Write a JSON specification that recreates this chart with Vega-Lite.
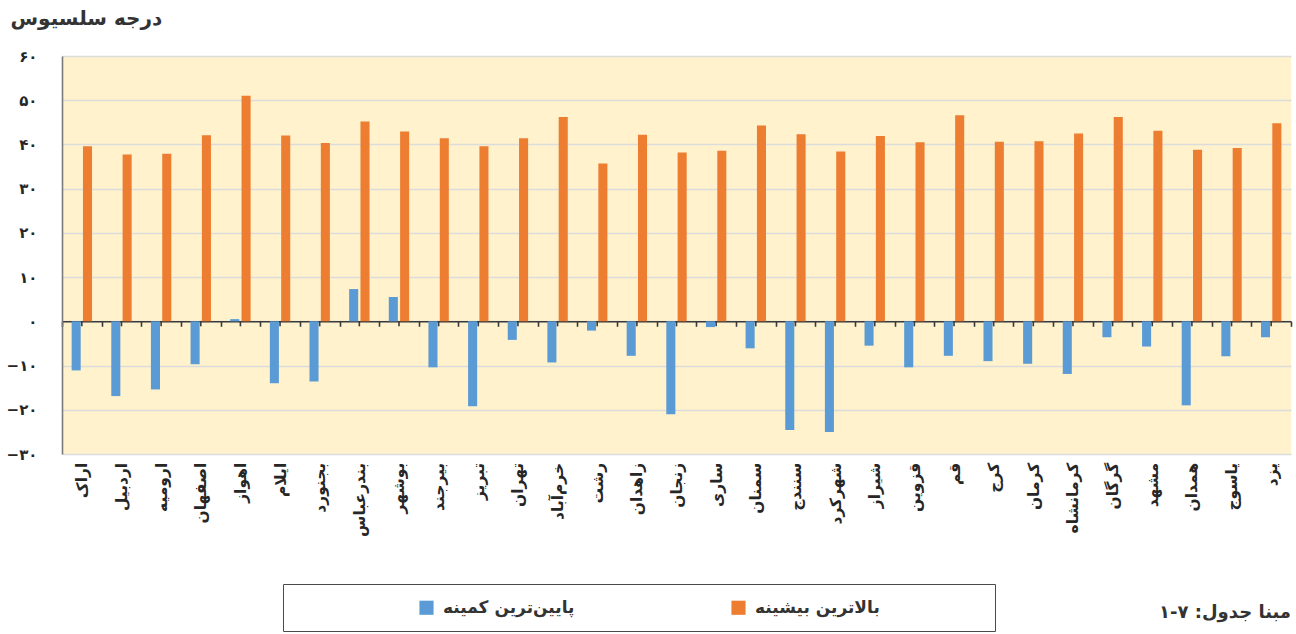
{
  "$schema": "https://vega.github.io/schema/vega-lite/v6.json",
  "width": 1229,
  "height": 398,
  "autosize": {"type": "none"},
  "padding": {"left": 62, "top": 56, "right": 5, "bottom": 180},
  "background": "white",
  "config": {
    "view": {"fill": "#fff2cc", "stroke": null},
    "font": "DejaVu Sans"
  },
  "title": {
    "text": "مبنا جدول: ۷-۱",
    "orient": "bottom",
    "anchor": "end",
    "frame": "group",
    "offset": -28,
    "fontSize": 18,
    "fontWeight": "bold",
    "color": "#333333"
  },
  "datasets": {
    "temps": [
      {"city": "اراک", "series": "پایین‌ترین کمینه", "value": -11.1},
      {"city": "اراک", "series": "بالاترین بیشینه", "value": 39.6},
      {"city": "اردبیل", "series": "پایین‌ترین کمینه", "value": -16.9},
      {"city": "اردبیل", "series": "بالاترین بیشینه", "value": 37.7},
      {"city": "ارومیه", "series": "پایین‌ترین کمینه", "value": -15.4},
      {"city": "ارومیه", "series": "بالاترین بیشینه", "value": 37.9},
      {"city": "اصفهان", "series": "پایین‌ترین کمینه", "value": -9.7},
      {"city": "اصفهان", "series": "بالاترین بیشینه", "value": 42.1},
      {"city": "اهواز", "series": "پایین‌ترین کمینه", "value": 0.5},
      {"city": "اهواز", "series": "بالاترین بیشینه", "value": 51.0},
      {"city": "ایلام", "series": "پایین‌ترین کمینه", "value": -14.0},
      {"city": "ایلام", "series": "بالاترین بیشینه", "value": 42.0},
      {"city": "بجنورد", "series": "پایین‌ترین کمینه", "value": -13.6},
      {"city": "بجنورد", "series": "بالاترین بیشینه", "value": 40.3},
      {"city": "بندرعباس", "series": "پایین‌ترین کمینه", "value": 7.3},
      {"city": "بندرعباس", "series": "بالاترین بیشینه", "value": 45.2},
      {"city": "بوشهر", "series": "پایین‌ترین کمینه", "value": 5.5},
      {"city": "بوشهر", "series": "بالاترین بیشینه", "value": 42.9},
      {"city": "بیرجند", "series": "پایین‌ترین کمینه", "value": -10.4},
      {"city": "بیرجند", "series": "بالاترین بیشینه", "value": 41.4},
      {"city": "تبریز", "series": "پایین‌ترین کمینه", "value": -19.2},
      {"city": "تبریز", "series": "بالاترین بیشینه", "value": 39.6},
      {"city": "تهران", "series": "پایین‌ترین کمینه", "value": -4.2},
      {"city": "تهران", "series": "بالاترین بیشینه", "value": 41.4},
      {"city": "خرم‌آباد", "series": "پایین‌ترین کمینه", "value": -9.3},
      {"city": "خرم‌آباد", "series": "بالاترین بیشینه", "value": 46.2},
      {"city": "رشت", "series": "پایین‌ترین کمینه", "value": -2.1},
      {"city": "رشت", "series": "بالاترین بیشینه", "value": 35.7},
      {"city": "زاهدان", "series": "پایین‌ترین کمینه", "value": -7.8},
      {"city": "زاهدان", "series": "بالاترین بیشینه", "value": 42.2},
      {"city": "زنجان", "series": "پایین‌ترین کمینه", "value": -21.0},
      {"city": "زنجان", "series": "بالاترین بیشینه", "value": 38.2},
      {"city": "ساری", "series": "پایین‌ترین کمینه", "value": -1.3},
      {"city": "ساری", "series": "بالاترین بیشینه", "value": 38.6},
      {"city": "سمنان", "series": "پایین‌ترین کمینه", "value": -6.1},
      {"city": "سمنان", "series": "بالاترین بیشینه", "value": 44.3},
      {"city": "سنندج", "series": "پایین‌ترین کمینه", "value": -24.6},
      {"city": "سنندج", "series": "بالاترین بیشینه", "value": 42.3},
      {"city": "شهرکرد", "series": "پایین‌ترین کمینه", "value": -25.0},
      {"city": "شهرکرد", "series": "بالاترین بیشینه", "value": 38.4},
      {"city": "شیراز", "series": "پایین‌ترین کمینه", "value": -5.5},
      {"city": "شیراز", "series": "بالاترین بیشینه", "value": 41.9},
      {"city": "قزوین", "series": "پایین‌ترین کمینه", "value": -10.4},
      {"city": "قزوین", "series": "بالاترین بیشینه", "value": 40.5},
      {"city": "قم", "series": "پایین‌ترین کمینه", "value": -7.8},
      {"city": "قم", "series": "بالاترین بیشینه", "value": 46.6},
      {"city": "کرج", "series": "پایین‌ترین کمینه", "value": -9.0},
      {"city": "کرج", "series": "بالاترین بیشینه", "value": 40.6},
      {"city": "کرمان", "series": "پایین‌ترین کمینه", "value": -9.6},
      {"city": "کرمان", "series": "بالاترین بیشینه", "value": 40.7},
      {"city": "کرمانشاه", "series": "پایین‌ترین کمینه", "value": -11.9},
      {"city": "کرمانشاه", "series": "بالاترین بیشینه", "value": 42.5},
      {"city": "گرگان", "series": "پایین‌ترین کمینه", "value": -3.6},
      {"city": "گرگان", "series": "بالاترین بیشینه", "value": 46.2},
      {"city": "مشهد", "series": "پایین‌ترین کمینه", "value": -5.7},
      {"city": "مشهد", "series": "بالاترین بیشینه", "value": 43.1},
      {"city": "همدان", "series": "پایین‌ترین کمینه", "value": -19.0},
      {"city": "همدان", "series": "بالاترین بیشینه", "value": 38.8},
      {"city": "یاسوج", "series": "پایین‌ترین کمینه", "value": -7.9},
      {"city": "یاسوج", "series": "بالاترین بیشینه", "value": 39.2},
      {"city": "یزد", "series": "پایین‌ترین کمینه", "value": -3.6},
      {"city": "یزد", "series": "بالاترین بیشینه", "value": 44.8}
    ],
    "cities": [
      {"city": "اراک"}, {"city": "اردبیل"}, {"city": "ارومیه"}, {"city": "اصفهان"},
      {"city": "اهواز"}, {"city": "ایلام"}, {"city": "بجنورد"}, {"city": "بندرعباس"},
      {"city": "بوشهر"}, {"city": "بیرجند"}, {"city": "تبریز"}, {"city": "تهران"},
      {"city": "خرم‌آباد"}, {"city": "رشت"}, {"city": "زاهدان"}, {"city": "زنجان"},
      {"city": "ساری"}, {"city": "سمنان"}, {"city": "سنندج"}, {"city": "شهرکرد"},
      {"city": "شیراز"}, {"city": "قزوین"}, {"city": "قم"}, {"city": "کرج"},
      {"city": "کرمان"}, {"city": "کرمانشاه"}, {"city": "گرگان"}, {"city": "مشهد"},
      {"city": "همدان"}, {"city": "یاسوج"}, {"city": "یزد"}
    ]
  },
  "layer": [
    {
      "data": {"name": "temps"},
      "mark": {"type": "bar"},
      "encoding": {
        "x": {
          "field": "city",
          "type": "nominal",
          "sort": null,
          "scale": {"paddingInner": 0, "paddingOuter": 0},
          "axis": {
            "title": null,
            "offset": -132.7,
            "tickBand": "extent",
            "domainColor": "#3a3a3a",
            "domainWidth": 1.6,
            "tickColor": "#3a3a3a",
            "tickWidth": 1.6,
            "tickSize": 5,
            "labelAngle": 270,
            "labelPadding": 136,
            "labelFontSize": 15.5,
            "labelFontWeight": "bold",
            "labelColor": "#262626",
            "labelLimit": 200,
            "grid": false
          }
        },
        "xOffset": {
          "field": "series",
          "type": "nominal",
          "sort": ["پایین‌ترین کمینه", "بالاترین بیشینه"],
          "scale": {"paddingInner": 0.2, "paddingOuter": 0.85}
        },
        "y": {
          "field": "value",
          "type": "quantitative",
          "scale": {"domain": [-30, 60], "nice": false, "zero": false},
          "axis": {
            "values": [-30, -20, -10, 0, 10, 20, 30, 40, 50, 60],
            "labelExpr": "datum.value == 60 ? '۶۰' : datum.value == 50 ? '۵۰' : datum.value == 40 ? '۴۰' : datum.value == 30 ? '۳۰' : datum.value == 20 ? '۲۰' : datum.value == 10 ? '۱۰' : datum.value == 0 ? '۰' : datum.value == -10 ? '−۱۰' : datum.value == -20 ? '−۲۰' : '−۳۰'",
            "ticks": false,
            "labelPadding": 25,
            "labelFontSize": 15,
            "labelFontWeight": "bold",
            "labelColor": "#262626",
            "domainColor": "#7a7a7a",
            "domainWidth": 1.6,
            "grid": true,
            "gridColor": "#dcdcdc",
            "gridWidth": 1.5,
            "title": "درجه سلسیوس",
            "titleAngle": 0,
            "titleAlign": "left",
            "titleBaseline": "top",
            "titleX": -52,
            "titleY": -48,
            "titleFontSize": 20,
            "titleFontWeight": "bold",
            "titleColor": "#333333"
          }
        },
        "color": {
          "field": "series",
          "type": "nominal",
          "sort": ["پایین‌ترین کمینه", "بالاترین بیشینه"],
          "scale": {
            "domain": ["پایین‌ترین کمینه", "بالاترین بیشینه"],
            "range": ["#5b9bd5", "#ed7d31"]
          },
          "legend": {
            "title": "\u00a0",
            "titleOrient": "right",
            "titlePadding": 100,
            "orient": "none",
            "legendX": 221,
            "legendY": 528,
            "direction": "horizontal",
            "strokeColor": "#4a4a4a",
            "padding": 15,
            "symbolType": "square",
            "symbolSize": 200,
            "symbolStrokeWidth": 0,
            "symbolOffset": 120,
            "labelFontSize": 17,
            "labelFontWeight": "bold",
            "labelColor": "#333333",
            "labelOffset": 8,
            "labelLimit": 300,
            "columnPadding": 35
          }
        }
      }
    },
    {
      "data": {"name": "cities"},
      "mark": {"type": "rule", "color": "#3a3a3a", "strokeWidth": 1.6},
      "encoding": {
        "x": {"field": "city", "type": "nominal", "sort": null},
        "y": {"datum": 0},
        "y2": {"datum": -1.13}
      }
    }
  ]
}
